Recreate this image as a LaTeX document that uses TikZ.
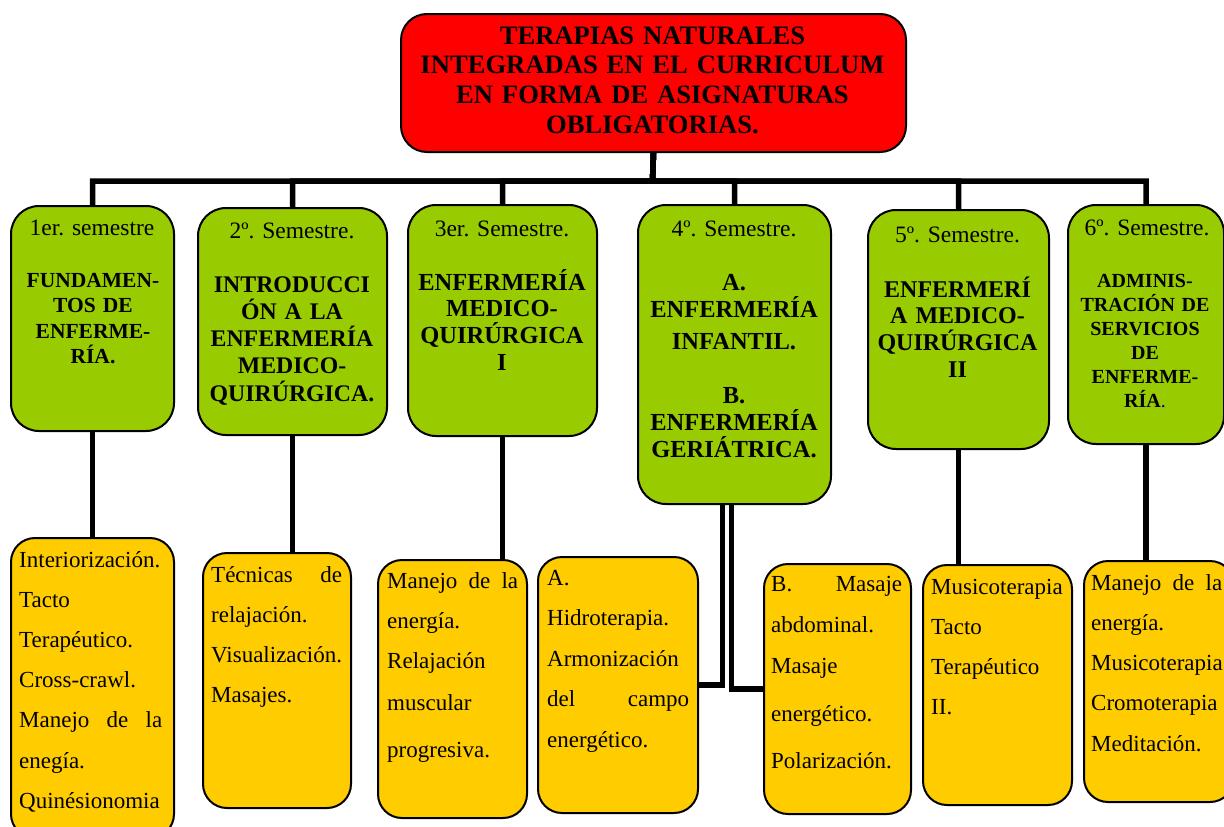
\documentclass[tikz,border=0pt]{standalone}
\usepackage{fontspec}
\setmainfont{Liberation Serif}
\usetikzlibrary{backgrounds,calc}
\definecolor{gfill}{RGB}{153,204,0}
\definecolor{yfill}{RGB}{255,204,0}
\definecolor{rfill}{RGB}{255,0,0}
\hyphenpenalty=10000\relax
\exhyphenpenalty=10000\relax
\begin{document}
\begin{tikzpicture}[x=1pt,y=-1pt,
  box/.style={draw=black,line width=2pt,inner sep=0pt,anchor=north west},
  gbox/.style={box,fill=gfill,rounded corners=28pt},
  ybox/.style={box,fill=yfill,rounded corners=24pt},
  rbox/.style={box,fill=rfill,rounded corners=26pt},
  conn/.style={line width=5.5pt},
  sem/.style={anchor=base,inner sep=0pt,font=\fontsize{23.5}{27}\selectfont},
  head/.style={anchor=base,inner sep=0pt,align=center,font=\bfseries\fontsize{23.5}{27}\selectfont},
  ytext/.style={anchor=base west,inner sep=0pt,align=left},
]
\useasboundingbox (0,0) rectangle (1224,827);

% top box
\node[rbox,minimum width=505,minimum height=138] (top) at (400,13) {};
\node[anchor=base,inner sep=0pt,align=center,text width=505,
      font=\bfseries\fontsize{26.6}{29.7}\selectfont] (toptext) at (652.5,44)
  {TERAPIAS NATURALES\\INTEGRADAS EN EL CURRICULUM\\EN FORMA DE ASIGNATURAS\\OBLIGATORIAS.};

% green boxes
\node[gbox,minimum width=163,minimum height=225] (g1) at (10,205) {};
\node[gbox,minimum width=189,minimum height=227] (g2) at (197,207) {};
\node[gbox,minimum width=189,minimum height=231] (g3) at (407,204) {};
\node[gbox,minimum width=193,minimum height=299] (g4) at (637,204) {};
\node[gbox,minimum width=181,minimum height=239] (g5) at (867,209) {};
\node[gbox,minimum width=156,minimum height=239] (g6) at (1067,204) {};

\node[sem] (s1) at (92,235) {1er. semestre};
\node[sem] (s2) at (292,238) {2º. Semestre.};
\node[sem] (s3) at (502,236) {3er. Semestre.};
\node[sem] (s4) at (734,236) {4º. Semestre.};
\node[sem] (s5) at (957.5,242) {5º. Semestre.};
\node[sem] (s6) at (1147,235) {6º. Semestre.};

\node[head,text width=160,font=\bfseries\fontsize{21.5}{25.5}\selectfont] (h1) at (93,287)
  {FUNDAMEN-\\TOS DE\\ENFERME-\\RÍA.};
\node[head,text width=188,font=\bfseries\fontsize{23.8}{27.3}\selectfont] (h2) at (292,292)
  {INTRODUCCI\\ÓN A LA\\ENFERMERÍA\\MEDICO-\\QUIRÚRGICA.};
\node[head,text width=188,font=\bfseries\fontsize{24.5}{26.7}\selectfont] (h3) at (502,290)
  {ENFERMERÍA\\MEDICO-\\QUIRÚRGICA\\I};
\node[head,text width=190,font=\bfseries\fontsize{24.5}{27}\selectfont] (h4) at (734,290)
  {A.\\ENFERMERÍA\\[5pt]INFANTIL.\\[27pt]B.\\ENFERMERÍA\\GERIÁTRICA.};
\node[head,text width=180,font=\bfseries\fontsize{24}{26.7}\selectfont] (h5) at (957.5,297)
  {ENFERMERÍ\\A MEDICO-\\QUIRÚRGICA\\II};
\node[head,text width=156,font=\bfseries\fontsize{20}{24}\selectfont] (h6) at (1145,287)
  {ADMINIS-\\TRACIÓN DE\\SERVICIOS\\DE\\ENFERME-\\RÍA{\mdseries\color{blue!70!black}.}};

% yellow boxes
\node[ybox,minimum width=163,minimum height=300] (y1) at (10,537) {};
\node[ybox,minimum width=148,minimum height=255] (y2) at (202,552) {};
\node[ybox,minimum width=149,minimum height=258] (y3) at (377,559) {};
\node[ybox,minimum width=160,minimum height=256] (yA) at (537,556) {};
\node[ybox,minimum width=147,minimum height=250] (yB) at (763,563) {};
\node[ybox,minimum width=149,minimum height=240] (y5) at (922,564) {};
\node[ybox,minimum width=150,minimum height=241] (y7) at (1083,560) {};

\node[ytext,text width=143,font=\fontsize{23}{40.2}\selectfont] (t1) at (19,567)
  {Interiorización.\\Tacto\\Terapéutico.\\Cross-crawl.\\Manejo\hfill de\hfill la\\enegía.\\Quinésionomia};
\node[ytext,text width=131,font=\fontsize{23}{40}\selectfont] (t2) at (211,582)
  {Técnicas\hfill de\\relajación.\\Visualización.\\Masajes.};
\node[ytext,text width=131,font=\fontsize{23}{40}\selectfont] (t3) at (387,588)
  {Manejo\hfill de\hfill la\\energía.\\Relajación\\[2pt]muscular\\[7pt]progresiva.};
\node[ytext,text width=142,font=\fontsize{23}{40.5}\selectfont] (tA) at (547,585)
  {A.\\Hidroterapia.\\Armonización\\del\hfill campo\\energético.};
\node[ytext,text width=131,font=\fontsize{23}{41}\selectfont] (tB) at (771,591)
  {B.\hfill Masaje\\abdominal.\\Masaje\\[7pt]energético.\\[6pt]Polarización.};
\node[ytext,text width=131,font=\fontsize{23}{40}\selectfont] (t5) at (931,594)
  {Musicoterapia\\Tacto\\Terapéutico\\II.};
\node[ytext,text width=131,font=\fontsize{23}{40.3}\selectfont] (t7) at (1091,590)
  {Manejo\hfill de\hfill la\\energía.\\Musicoterapia\\Cromoterapia\\Meditación.};

% connectors
\begin{scope}[on background layer]
  \coordinate (bus) at (652.5,181);
  \foreach \g in {g1,g2,g3,g4,g5,g6}
    \draw[conn] (top.south) -- (bus) -| (\g.north);
  \draw[conn] (g1.south) -- (g1.south |- y1.north);
  \draw[conn] (g2.south) -- (g2.south |- y2.north);
  \draw[conn] (g3.south) -- (g3.south |- y3.north);
  \draw[conn] (g5.south) -- (g5.south |- y5.north);
  \draw[conn] (g6.south) -- (g6.south |- y7.north);
  \draw[conn] ([xshift=-12pt]g4.south) |- (yA.east);
  \draw[conn] ([xshift=-3pt]g4.south) |- (yB.west);
\end{scope}
\end{tikzpicture}
\end{document}
